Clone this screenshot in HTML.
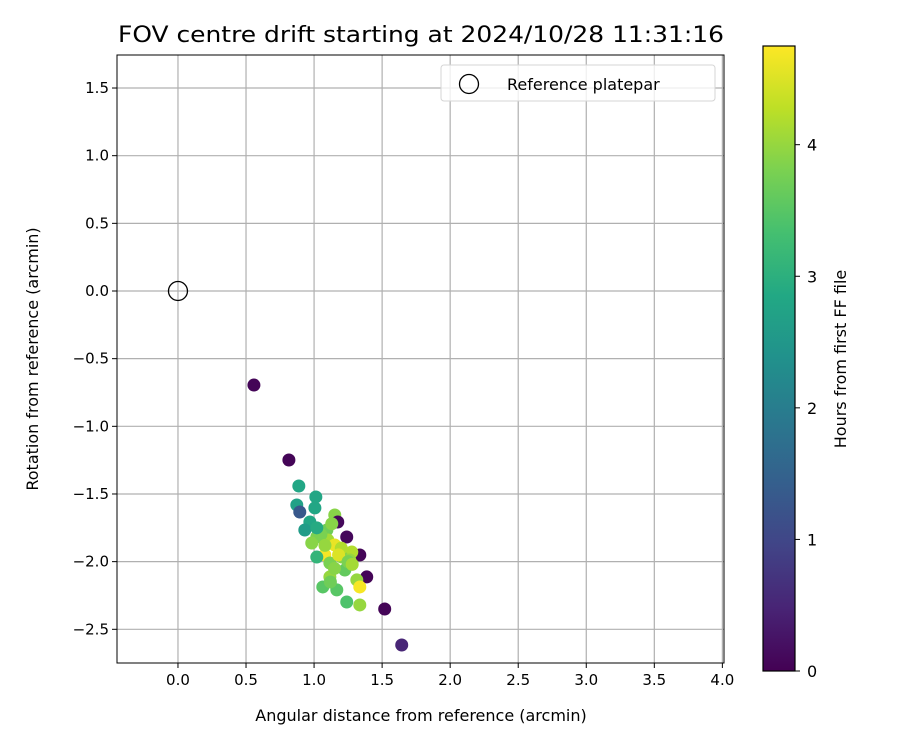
<!DOCTYPE html>
<html><head><meta charset="utf-8"><style>
body{margin:0;background:#fff}
svg{display:block;font-family:"DejaVu Sans","Liberation Sans",sans-serif}
</style></head><body>
<svg id="chart" width="900" height="750">
<defs><linearGradient id="vir" x1="0" y1="1" x2="0" y2="0">
<stop offset="0" stop-color="#440154"/><stop offset="0.1" stop-color="#482475"/><stop offset="0.2" stop-color="#414487"/><stop offset="0.3" stop-color="#355f8d"/><stop offset="0.4" stop-color="#2a788e"/><stop offset="0.5" stop-color="#21918c"/><stop offset="0.6" stop-color="#22a884"/><stop offset="0.7" stop-color="#44bf70"/><stop offset="0.8" stop-color="#7ad151"/><stop offset="0.9" stop-color="#bddf26"/><stop offset="1" stop-color="#fde725"/>
</linearGradient></defs>
</svg>
<script>
const xVals=[0.558,0.815,0.888,0.873,0.895,1.006,1.013,0.969,0.932,1.152,1.174,1.240,1.336,1.387,1.519,1.644,1.020,0.983,1.094,1.101,1.152,1.079,1.277,1.204,1.262,1.020,1.116,1.226,1.116,1.314,1.336,1.064,1.167,1.240,1.336,1.05,1.13,1.20,1.15,1.08,1.18,1.25,1.02,1.12,1.28];
const yVals=[-0.695,-1.249,-1.441,-1.581,-1.633,-1.603,-1.522,-1.707,-1.766,-1.655,-1.707,-1.818,-1.951,-2.113,-2.350,-2.616,-1.818,-1.862,-1.766,-1.840,-1.877,-1.951,-1.929,-1.966,-1.988,-1.966,-2.010,-2.062,-2.113,-2.135,-2.187,-2.187,-2.209,-2.298,-2.320,-1.80,-1.72,-1.90,-2.05,-1.88,-1.95,-2.00,-1.75,-2.15,-2.02];
const hours=[0.05,0.05,2.8,2.7,1.3,2.8,2.8,2.8,2.6,3.9,0.1,0.1,0.05,0.05,0.05,0.5,3.8,3.9,3.7,4.1,4.6,4.7,4.2,3.9,4.0,3.1,3.8,3.6,4.0,4.0,4.7,3.5,3.5,3.4,4.0,3.8,3.9,4.2,3.9,4.0,4.5,3.8,2.9,3.7,4.1];
const xTicks=[0,0.5,1,1.5,2,2.5,3,3.5,4];
const yTicks=[1.5,1,0.5,0,-0.5,-1,-1.5,-2,-2.5];
const cTicks=[0,1,2,3,4];
const L=117,R=724,T=55,B=663,xmin=-0.448,xmax=4.012,ymin=-2.749,ymax=1.744;
const X=v=>L+(v-xmin)/(xmax-xmin)*(R-L);
const Y=v=>B-(v-ymin)/(ymax-ymin)*(B-T);
const CT=46,CB=671,cmax=4.75;
const CY=v=>CB-v/cmax*(CB-CT);
const stops=["#440154","#482475","#414487","#355f8d","#2a788e","#21918c","#22a884","#44bf70","#7ad151","#bddf26","#fde725"];
function hex(c){return [1,3,5].map(i=>parseInt(c.substr(i,2),16));}
function vir(t){t=Math.max(0,Math.min(1,t))*10;const i=Math.min(9,Math.floor(t)),f=t-i;const a=hex(stops[i]),b=hex(stops[i+1]);return `rgb(${a.map((v,k)=>Math.round(v+(b[k]-v)*f)).join(',')})`;}
const svg=document.getElementById('chart');const NS='http://www.w3.org/2000/svg';
function el(tag,attrs,txt){const e=document.createElementNS(NS,tag);for(const k in attrs)e.setAttribute(k,attrs[k]);if(txt!==undefined)e.textContent=txt;svg.appendChild(e);return e;}
let e;
xTicks.forEach(t=>{e=el('line',{x1:X(t),x2:X(t),y1:T,y2:B,stroke:'#b0b0b0','stroke-width':1.2});


el('line',{x1:X(t),x2:X(t),y1:B,y2:B+5,stroke:'#000'});
e=el('text',{x:X(t),y:B+22,'text-anchor':'middle','font-size':15},t.toFixed(1));

});
yTicks.forEach(t=>{e=el('line',{x1:L,x2:R,y1:Y(t),y2:Y(t),stroke:'#b0b0b0','stroke-width':1.2});


el('line',{x1:L-5,x2:L,y1:Y(t),y2:Y(t),stroke:'#000'});
e=el('text',{x:L-8,y:Y(t)+5,'text-anchor':'end','font-size':15},t.toFixed(1).replace('-','\u2212'));

});
xVals.forEach((v,i)=>{e=el('circle',{cx:X(v),cy:Y(yVals[i]),r:6.5,fill:vir(hours[i]/cmax)});

});
e=el('circle',{cx:X(0),cy:Y(0),r:9.5,fill:'none',stroke:'#000','stroke-width':1.3});


e=el('rect',{x:L,y:T,width:R-L,height:B-T,fill:'none',stroke:'#000','stroke-width':1});


e=el('rect',{x:441,y:65,width:274,height:36,rx:3,fill:'rgba(255,255,255,0.8)',stroke:'#d5d5d5'});


el('circle',{cx:469,cy:84,r:9.5,fill:'none',stroke:'#000','stroke-width':1.3});
e=el('text',{x:507,y:90,'font-size':16},'Reference platepar');


e=el('text',{x:421,y:42,'text-anchor':'middle','font-size':22,textLength:606,lengthAdjust:'spacingAndGlyphs'},'FOV centre drift starting at 2024/10/28 11:31:16');


e=el('text',{x:421,y:721,'text-anchor':'middle','font-size':16},'Angular distance from reference (arcmin)');


e=el('text',{x:0,y:0,'text-anchor':'middle','font-size':16,transform:`translate(38,359) rotate(-90)`},'Rotation from reference (arcmin)');


e=el('rect',{x:763,y:CT,width:32,height:CB-CT,fill:'url(#vir)',stroke:'#000','stroke-width':1.2});


cTicks.forEach(t=>{el('line',{x1:795,x2:800,y1:CY(t),y2:CY(t),stroke:'#000'});
e=el('text',{x:807,y:CY(t)+6,'font-size':16},String(t));

});
e=el('text',{x:0,y:0,'text-anchor':'middle','font-size':16,transform:`translate(846,359) rotate(-90)`},'Hours from first FF file');


</script>
</body></html>
